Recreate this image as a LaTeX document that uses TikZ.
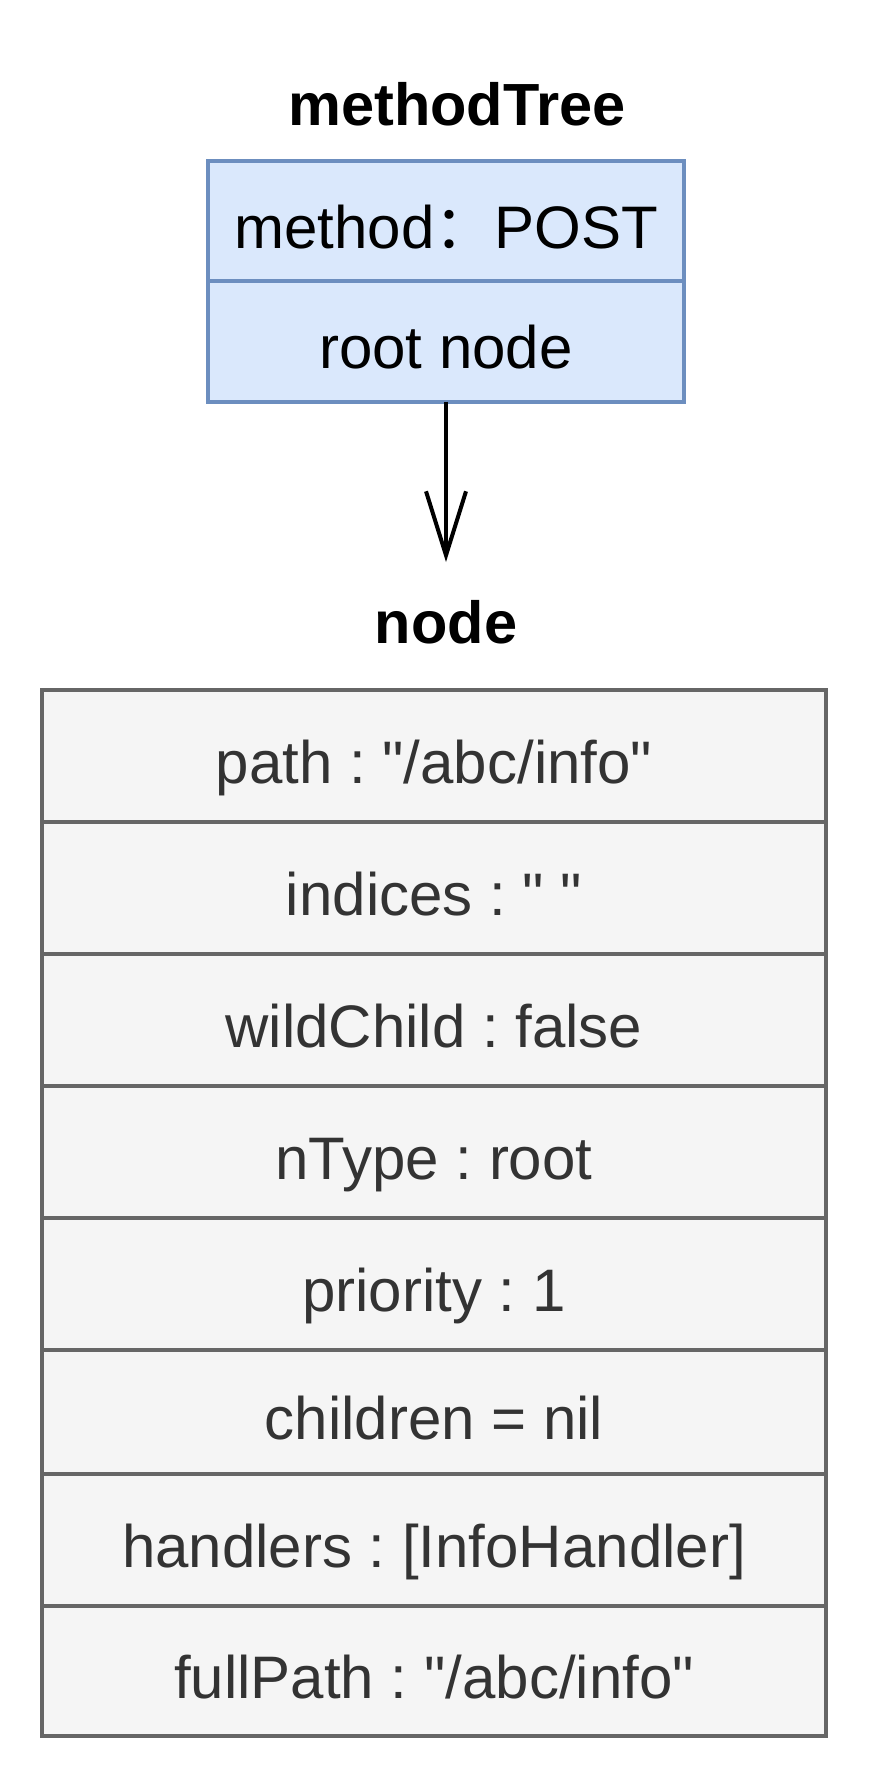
\documentclass[tikz,border=0pt]{standalone}
\usepackage{fontspec}
\setmainfont{Liberation Sans}[Ligatures=TeXOff]
\newfontfamily\cjkfont{Noto Sans CJK SC}
\usetikzlibrary{arrows.meta}
\definecolor{bluefill}{HTML}{DAE8FC}
\definecolor{bluedraw}{HTML}{6C8EBF}
\definecolor{grayfill}{HTML}{F5F5F5}
\definecolor{graydraw}{HTML}{666666}
\definecolor{graytext}{HTML}{333333}
\frenchspacing
\begin{document}
\begin{tikzpicture}[x=1pt,y=-1pt,
  every node/.style={inner sep=0pt, outer sep=0pt, font=\fontsize{60pt}{72pt}\selectfont},
  titletext/.style={font=\fontsize{59.5pt}{72pt}\selectfont\bfseries, anchor=base},
  bluerow/.style={draw=bluedraw, fill=bluefill, line width=4pt, minimum width=476.6pt, minimum height=120.3pt, text height=54pt, text depth=0pt},
  grayrow/.style={draw=graydraw, fill=grayfill, line width=4pt, minimum width=784pt, text=graytext, text height=54pt, text depth=0pt},
  link/.style={draw=black, line width=4pt, -{Straight Barb[length=64pt,width=40pt]}}
]
\fill[white] (0,0) rectangle (868,1780);
\useasboundingbox (0,0) rectangle (868,1780);

\node[titletext] (t1) at (457,125.4) {methodTree};
\node[bluerow] (m1) at (446,221.2) {method\cjkfont ：\normalfont POST};
\node[bluerow] (m2) at (446,341.5) {root node};

\coordinate (tip) at (446,562);
\draw[link] (m2.south) -- (tip);

\node[titletext] (t2) at (446,643) {node};

\node[grayrow, minimum height=132pt] (r1) at (434,756) {path : "/abc/info"};
\node[grayrow, minimum height=132pt] (r2) at (434,888) {indices : " "};
\node[grayrow, minimum height=132pt] (r3) at (434,1020) {wildChild : false};
\node[grayrow, minimum height=132pt] (r4) at (434,1152) {nType : root};
\node[grayrow, minimum height=132pt] (r5) at (434,1284) {priority : 1};
\node[grayrow, minimum height=124pt] (r6) at (434,1412) {children = nil};
\node[grayrow, minimum height=132pt] (r7) at (434,1540) {handlers : [InfoHandler]};
\node[grayrow, minimum height=130pt] (r8) at (434,1671) {fullPath : "/abc/info"};
\end{tikzpicture}
\end{document}
